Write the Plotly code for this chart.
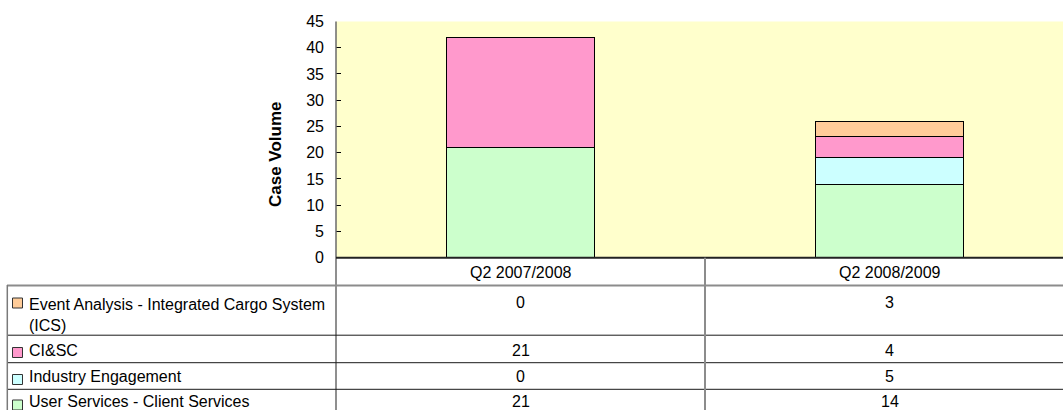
import plotly.graph_objects as go

categories = ["Q2 2007/2008", "Q2 2008/2009"]
series_names = [
    "User Services - Client Services",
    "Industry Engagement",
    "CI&SC",
    "Event Analysis - Integrated Cargo System (ICS)",
]
user_services = [21, 14]
industry_engagement = [0, 5]
ci_sc = [21, 4]
event_analysis = [0, 3]
series_values = [user_services, industry_engagement, ci_sc, event_analysis]
series_colors = ["#CCFFCC", "#CCFFFF", "#FF99CC", "#FFCC99"]
y_ticks = [0, 5, 10, 15, 20, 25, 30, 35, 40, 45]

W, H = 1063, 410
FONT = "Liberation Sans, Arial, sans-serif"
FS = 16

def px(x):
    return x / W

def py(y):
    return 1 - y / H

fig = go.Figure()
for name, vals, col in zip(series_names, series_values, series_colors):
    fig.add_trace(go.Bar(
        x=categories, y=vals, name=name,
        marker=dict(color=col, line=dict(color="#000000", width=1)),
        width=0.4,
    ))

plot_left, plot_top, plot_bottom = 336, 21.5, 257.7
cat_w = 369.0
x_right = -0.5 + (W - plot_left) / cat_w

fig.update_layout(
    width=W, height=H,
    margin=dict(l=0, r=0, t=0, b=0, autoexpand=False),
    barmode="stack",
    showlegend=False,
    paper_bgcolor="white",
    plot_bgcolor="#FFFFCC",
    font=dict(family=FONT, size=FS, color="#000000"),
    xaxis=dict(
        domain=[px(plot_left), 1],
        range=[-0.5, x_right],
        showticklabels=False, ticks="", showgrid=False, zeroline=False,
        showline=False, automargin=False,
    ),
    yaxis=dict(
        domain=[py(plot_bottom), py(plot_top)],
        range=[0, 45],
        tickvals=y_ticks,
        ticks="inside", ticklen=5, tickcolor="#000000", tickwidth=1,
        showgrid=False, zeroline=False, showline=False, automargin=False,
        ticklabelstandoff=11,
        tickfont=dict(family=FONT, size=FS),
    ),
)

shapes = []
shapes.append(dict(type="line", xref="paper", yref="paper",
                   x0=px(plot_left), x1=px(plot_left), y0=py(plot_top), y1=0,
                   line=dict(color="#6a6a6a", width=1.5)))
shapes.append(dict(type="line", xref="paper", yref="paper",
                   x0=px(plot_left), x1=1, y0=py(plot_bottom), y1=py(plot_bottom),
                   line=dict(color="#222222", width=2)))
shapes.append(dict(type="line", xref="paper", yref="paper",
                   x0=px(7), x1=1, y0=py(285.5), y1=py(285.5),
                   line=dict(color="#8c8c8c", width=2)))
for yl in [335.2, 362.7, 389.3]:
    shapes.append(dict(type="line", xref="paper", yref="paper",
                       x0=px(7), x1=1, y0=py(yl), y1=py(yl),
                       line=dict(color="#1a1a1a", width=1)))
shapes.append(dict(type="line", xref="paper", yref="paper",
                   x0=px(7.3), x1=px(7.3), y0=py(285), y1=0,
                   line=dict(color="#7a7a7a", width=1.5)))
shapes.append(dict(type="line", xref="x", yref="paper",
                   x0=0.5, x1=0.5, y0=py(plot_bottom), y1=0,
                   line=dict(color="#8c8c8c", width=2)))

annotations = []
annotations.append(dict(text="<b>Case Volume</b>", xref="paper", yref="paper",
                        x=px(275), y=py(154), textangle=-90, showarrow=False,
                        xanchor="center", yanchor="middle",
                        font=dict(family=FONT, size=17)))
for c in categories:
    annotations.append(dict(text=c, xref="x", yref="paper", x=c, y=py(272.5),
                            showarrow=False, xanchor="center", yanchor="middle",
                            font=dict(family=FONT, size=FS)))

row_centers = [303.5, 350, 376.5, 401]
sq_centers = [303, 352.5, 379.5, 405]
table_order = list(range(len(series_names)))[::-1]
for r, idx in enumerate(table_order):
    name = series_names[idx]
    label = name
    if idx == 3:
        label = "Event Analysis - Integrated Cargo System<br>(ICS)"
    if "<br>" in label:
        annotations.append(dict(text=label, xref="paper", yref="paper",
                                x=px(27), y=py(row_centers[r] - 10), showarrow=False,
                                xanchor="left", yanchor="top", align="left",
                                font=dict(family=FONT, size=FS)))
    else:
        annotations.append(dict(text=label, xref="paper", yref="paper",
                                x=px(27), y=py(row_centers[r]), showarrow=False,
                                xanchor="left", yanchor="middle", align="left",
                                font=dict(family=FONT, size=FS)))
    shapes.append(dict(type="rect", xref="paper", yref="paper",
                       x0=px(12.5), x1=px(22.5),
                       y0=py(sq_centers[r] - 5), y1=py(sq_centers[r] + 5),
                       fillcolor=series_colors[idx],
                       line=dict(color="#333333", width=1)))
    for c, v in zip(categories, series_values[idx]):
        annotations.append(dict(text=str(v), xref="x", yref="paper", x=c,
                                y=py(row_centers[r] - (1.5 if r == 0 else 0)),
                                showarrow=False, xanchor="center", yanchor="middle",
                                font=dict(family=FONT, size=FS)))

fig.update_layout(shapes=shapes, annotations=annotations)
fig.write_html("out.html", config={"displayModeBar": False},
               post_script="document.body.style.margin='0';document.body.style.overflow='hidden';")
